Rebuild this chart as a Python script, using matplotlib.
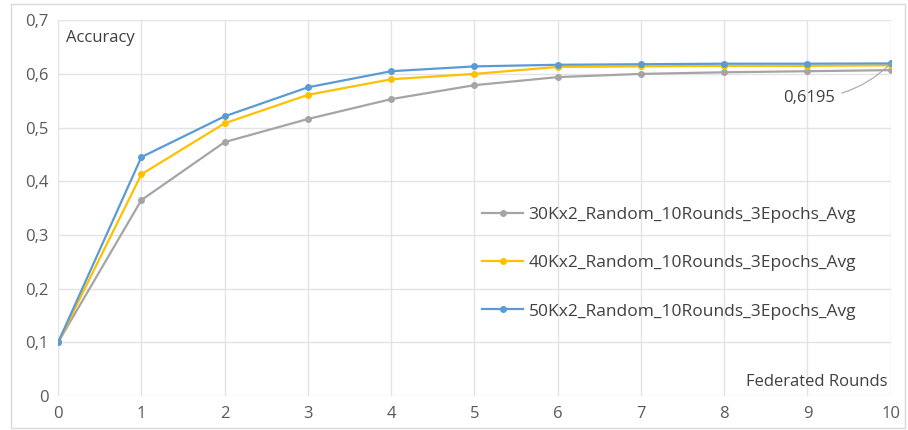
import matplotlib
matplotlib.use("Agg")
import matplotlib.pyplot as plt
from matplotlib.patches import Rectangle

rounds = list(range(11))
acc_30k = [0.1, 0.365, 0.473, 0.516, 0.553, 0.579, 0.594, 0.600, 0.603, 0.605, 0.607]
acc_40k = [0.1, 0.413, 0.508, 0.561, 0.590, 0.600, 0.613, 0.614, 0.615, 0.615, 0.616]
acc_50k = [0.1, 0.445, 0.521, 0.575, 0.605, 0.614, 0.617, 0.618, 0.619, 0.619, 0.6195]
labels = ["30Kx2_Random_10Rounds_3Epochs_Avg",
          "40Kx2_Random_10Rounds_3Epochs_Avg",
          "50Kx2_Random_10Rounds_3Epochs_Avg"]
yticks = [0, 0.1, 0.2, 0.3, 0.4, 0.5, 0.6, 0.7]
ytick_labels = ["0", "0,1", "0,2", "0,3", "0,4", "0,5", "0,6", "0,7"]
annot_text = "0,6195"

plt.rcParams['font.family'] = ['Open Sans', 'DejaVu Sans']
FS = 12

fig = plt.figure(figsize=(9.08, 4.30), dpi=100)
ax = fig.add_axes([0.064, 0.079, 0.917, 0.874])

colors = ["#A5A5A5", "#FFC000", "#5B9BD5"]
for data, c, lab in zip([acc_30k, acc_40k, acc_50k], colors, labels):
    ax.plot(rounds, data, color=c, lw=1.6, marker='o', ms=4, label=lab, zorder=3)

ax.set_xlim(0, 10)
ax.set_ylim(0, 0.7)
ax.set_xticks(rounds)
ax.set_yticks(yticks)
ax.set_yticklabels(ytick_labels)
ax.grid(True, color="#E3E3E3", lw=1)
ax.set_axisbelow(True)
for s in ax.spines.values():
    s.set_visible(False)
ax.tick_params(length=0, colors="#595959", labelsize=FS, pad=7)

ax.text(0.010, 0.952, "Accuracy", transform=ax.transAxes, fontsize=FS,
        color="#404040", ha='left', va='center')
ax.text(0.996, 0.037, "Federated Rounds", transform=ax.transAxes, fontsize=FS,
        color="#404040", ha='right', va='center')

ax.annotate(annot_text, xy=(rounds[-1], acc_50k[-1]), xytext=(9.33, 0.555),
            fontsize=FS, color="#404040", ha='right', va='center',
            arrowprops=dict(arrowstyle='-', color="#A6A6A6", lw=0.8,
                            connectionstyle="arc3,rad=0.2", shrinkA=3, shrinkB=0))

leg = ax.legend(loc='upper left', bbox_to_anchor=(0.49, 0.545), frameon=False,
                fontsize=FS + 0.5, labelspacing=1.85, handlelength=2.4,
                handletextpad=0.3)
for t in leg.get_texts():
    t.set_color("#404040")

fig.patches.append(Rectangle((0.012, 0.005), 0.985, 0.985, transform=fig.transFigure,
                             fill=False, edgecolor="#D9D9D9", lw=1))

fig.savefig("out.png", dpi=100)
